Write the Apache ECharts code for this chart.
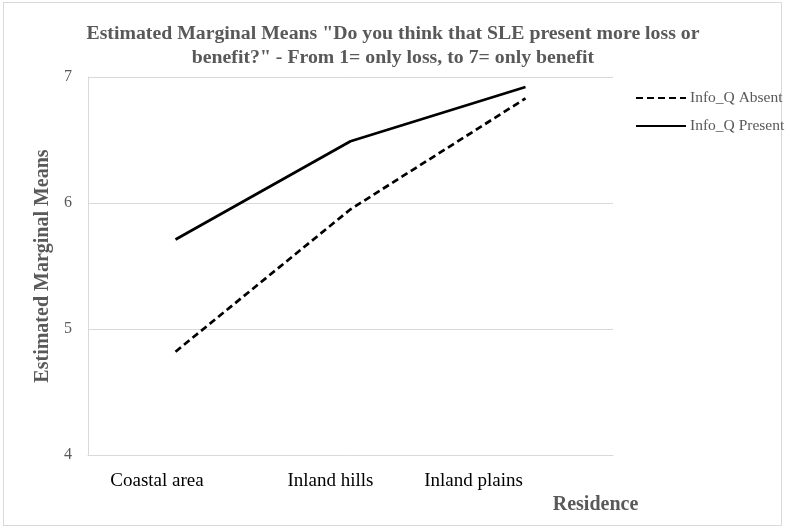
<!DOCTYPE html>
<html>
<head>
<meta charset="utf-8">
<script src="https://cdn.jsdelivr.net/npm/echarts@6/dist/echarts.min.js"></script>
<style>
  html, body { margin: 0; padding: 0; background: #fff; }
  #frame { position: absolute; left: 3px; top: 2px; width: 779px; height: 524px; border: 1px solid #d9d9d9; box-sizing: border-box; }
  #chart { position: absolute; left: 0; top: 0; width: 786px; height: 529px; }
</style>
</head>
<body>
<div id="frame"></div>
<div id="chart"></div>
<script>
const categories = ['Coastal area', 'Inland hills', 'Inland plains'];
const absent = [4.82, 5.95, 6.83];
const present = [5.71, 6.49, 6.92];
const yTicks = [4, 5, 6, 7];

// label shifts to mimic the original placement
const labelPad = [37, 40, 104];

const chart = echarts.init(document.getElementById('chart'));
const serif = '"Liberation Serif", "DejaVu Serif", serif';

let rich = {};
labelPad.forEach(function (p, i) {
  rich['c' + i] = { padding: [0, p, 0, 0], fontFamily: serif, fontSize: 19, color: '#000' };
});

let option = {
  animation: false,
  title: {
    text: 'Estimated Marginal Means "Do you think that SLE present more loss or\nbenefit?" - From 1= only loss, to 7= only benefit',
    left: 'center',
    top: 17,
    textStyle: {
      fontFamily: serif,
      fontWeight: 'bold',
      fontSize: 19.8,
      color: '#595959',
      lineHeight: 24
    }
  },
  legend: {
    orient: 'vertical',
    left: 630,
    top: 85,
    itemWidth: 50,
    itemHeight: 14,
    itemGap: 12,
    itemStyle: { opacity: 0 },
    textStyle: { fontFamily: serif, fontSize: 15.5, color: '#595959', padding: [0, 0, 0, -1] },
    data: ['Info_Q Absent', 'Info_Q Present']
  },
  grid: { left: 88, right: 173, top: 77, bottom: 74 },
  xAxis: {
    type: 'category',
    data: categories,
    boundaryGap: true,
    name: 'Residence',
    nameLocation: 'end',
    nameGap: 0,
    nameTextStyle: {
      fontFamily: serif, fontWeight: 'bold', fontSize: 20, color: '#595959',
      verticalAlign: 'top', align: 'center', padding: [40, 0, 0, -35]
    },
    axisLine: { lineStyle: { color: '#d9d9d9', width: 1 } },
    axisTick: { show: false },
    axisLabel: {
      margin: 17,
      formatter: function (v, i) { return '{c' + i + '|' + v + '}'; },
      rich: rich
    }
  },
  yAxis: {
    type: 'value',
    min: yTicks[0],
    max: yTicks[yTicks.length - 1],
    interval: 1,
    name: 'Estimated Marginal Means',
    nameLocation: 'middle',
    nameGap: 34,
    nameTextStyle: { fontFamily: serif, fontWeight: 'bold', fontSize: 20, color: '#595959' },
    axisLine: { show: true, lineStyle: { color: '#d9d9d9', width: 1 } },
    axisTick: { show: false },
    axisLabel: { margin: 16, fontFamily: serif, fontSize: 16, color: '#595959' },
    splitLine: { lineStyle: { color: '#d9d9d9', width: 1 } }
  },
  series: [
    {
      name: 'Info_Q Absent',
      type: 'line',
      data: absent,
      symbol: 'none',
      lineStyle: { color: '#000', width: 2.7, type: [7, 4] },
      itemStyle: { color: '#000' }
    },
    {
      name: 'Info_Q Present',
      type: 'line',
      data: present,
      symbol: 'none',
      lineStyle: { color: '#000', width: 2.7 },
      itemStyle: { color: '#000' }
    }
  ]
};

chart.setOption(option);
</script>
</body>
</html>
